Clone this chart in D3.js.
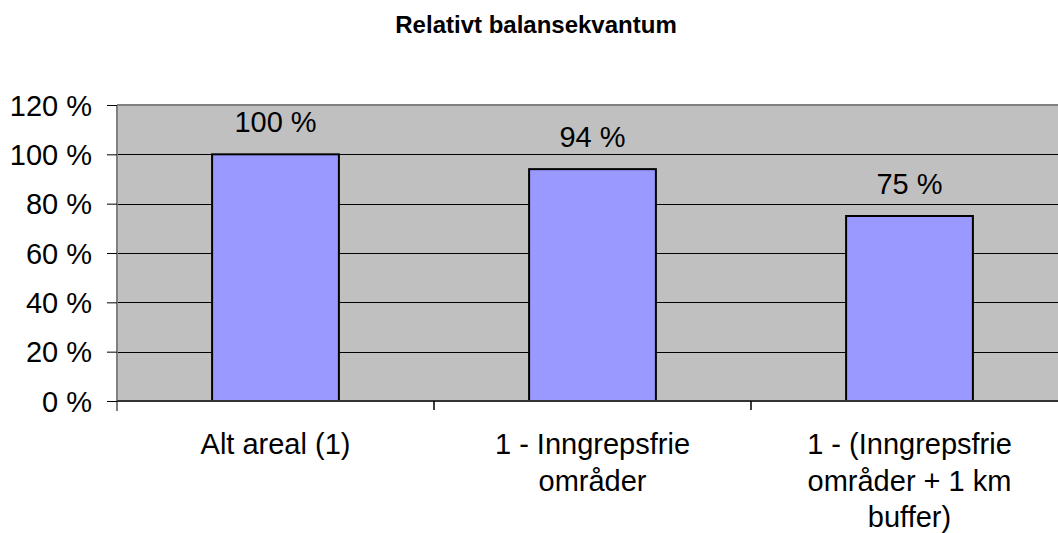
<!DOCTYPE html>
<html><head><meta charset="utf-8">
<script src="https://cdn.jsdelivr.net/npm/d3@7"></script>
<style>body{margin:0;background:#fff}svg{display:block}text{font-family:Arial,"Liberation Sans",sans-serif}</style>
</head><body><svg id="c" width="1058" height="533"></svg>
<script>
const categories = [["Alt areal (1)"], ["1 - Inngrepsfrie", "områder"], ["1 - (Inngrepsfrie", "områder + 1 km", "buffer)"]];
const values = [100, 94, 75];
const yTicks = [0, 20, 40, 60, 80, 100, 120];
const title = "Relativt balansekvantum";

const FS = 29;
const svg = d3.select("#c");
const pL = 117, pT = 105, pB = 401, pR = 1068;
const x = d3.scaleBand().domain(d3.range(categories.length)).range([pL, pR]).paddingInner(0.6).paddingOuter(0.3);
const xo = d3.scaleBand().domain(d3.range(categories.length)).range([pL, pR]);
const y = d3.scaleLinear().domain([0, 120]).range([pB, pT]);

svg.append("text").attr("x", 536).attr("y", 33).attr("text-anchor", "middle")
  .attr("font-weight", "bold").attr("font-size", 24).text(title);

svg.append("rect").attr("x", pL).attr("y", pT).attr("width", pR - pL).attr("height", pB - pT).attr("fill", "#c0c0c0");
svg.append("line").attr("x1", pL).attr("x2", pR).attr("y1", pT).attr("y2", pT).attr("stroke", "#808080").attr("stroke-width", 2);

const g = svg.append("g");
yTicks.filter(d => d > 0 && d < 120).forEach(d => {
  g.append("line").attr("x1", pL).attr("x2", pR).attr("y1", Math.round(y(d)) + 0.5).attr("y2", Math.round(y(d)) + 0.5).attr("stroke", "#000").attr("stroke-width", 1);
});

svg.selectAll("rect.bar").data(values).enter().append("rect").attr("class", "bar")
  .attr("x", (d, i) => x(i)).attr("width", x.bandwidth())
  .attr("y", d => y(d)).attr("height", d => pB - y(d))
  .attr("fill", "#9999ff").attr("stroke", "#000").attr("stroke-width", 2);

svg.selectAll("text.lab").data(values).enter().append("text").attr("class", "lab")
  .attr("x", (d, i) => x(i) + x.bandwidth() / 2).attr("y", d => y(d) - 22)
  .attr("text-anchor", "middle").attr("font-size", FS).text(d => d + " %");

// y axis
const ya = svg.append("g").attr("transform", `translate(${pL},0)`)
  .call(d3.axisLeft(y).tickValues(yTicks).tickSize(10).tickPadding(15).tickFormat(d => d + " %"));
ya.select(".domain").attr("stroke", "#808080").attr("stroke-width", 2).attr("d", `M0,${pT}V${pB + 10}`);
ya.selectAll(".tick line").attr("stroke", "#000");
ya.selectAll(".tick text").attr("font-size", FS).attr("font-family", "Arial, 'Liberation Sans', sans-serif").attr("fill", "#000").attr("dy", "0.35em");

// x axis
svg.append("line").attr("x1", pL).attr("x2", pR).attr("y1", pB).attr("y2", pB).attr("stroke", "#333").attr("stroke-width", 2);
d3.range(1, categories.length).forEach(i => {
  svg.append("line").attr("x1", xo(i)).attr("x2", xo(i)).attr("y1", pB).attr("y2", pB + 9).attr("stroke", "#000").attr("stroke-width", 1.5);
});
categories.forEach((lines, i) => {
  const cx = xo(i) + xo.bandwidth() / 2;
  const t = svg.append("text").attr("text-anchor", "middle").attr("font-size", FS)
    .attr("x", cx).attr("y", 454);
  lines.forEach((l, j) => t.append("tspan").attr("x", cx).attr("dy", j === 0 ? 0 : 36.5).text(l));
});
</script></body></html>
